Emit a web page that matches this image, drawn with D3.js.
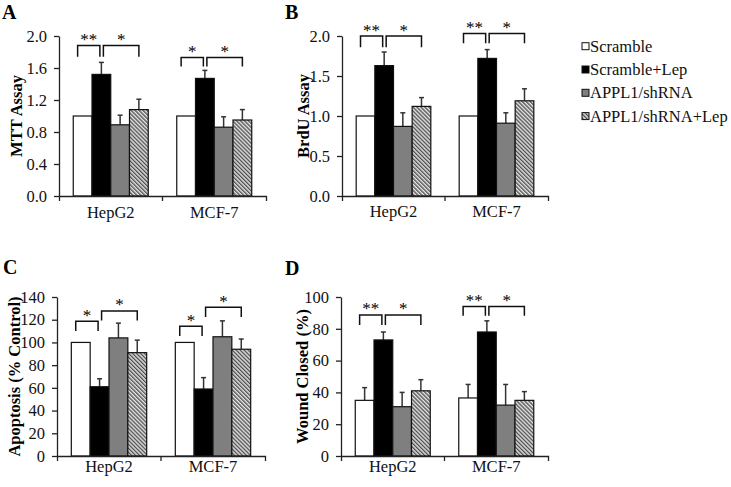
<!DOCTYPE html>
<html>
<head>
<meta charset="utf-8">
<script src="https://cdn.jsdelivr.net/npm/d3@7"></script>
<style>
  html, body { margin: 0; padding: 0; background: #fff; }
  svg { display: block; font-family: "Liberation Serif", "Times New Roman", serif; }
</style>
</head>
<body>
<svg id="chart" width="731" height="487"></svg>
<script>
// ---------------- data ----------------
const groups = ["HepG2", "MCF-7"];
const series = ["Scramble", "Scramble+Lep", "APPL1/shRNA", "APPL1/shRNA+Lep"];

const mttMean = [[1.00, 1.52, 0.89, 1.08], [1.00, 1.47, 0.86, 0.95]];
const mttErr  = [[0.00, 0.15, 0.12, 0.13], [0.00, 0.10, 0.13, 0.13]];
const mttTicks = [0, 0.4, 0.8, 1.2, 1.6, 2.0];
const mttSig = [[0, 0, 1, 1.88, 1.74, "**"], [0, 1, 3, 1.88, 1.74, "*"],
                [1, 0, 1, 1.73, 1.62, "*"],  [1, 1, 3, 1.73, 1.62, "*"]];

const brduMean = [[1.00, 1.63, 0.87, 1.12], [1.00, 1.72, 0.91, 1.19]];
const brduErr  = [[0.00, 0.17, 0.17, 0.11], [0.00, 0.11, 0.13, 0.15]];
const brduTicks = [0, 0.5, 1.0, 1.5, 2.0];
const brduSig = [[0, 0, 1, 2.00, 1.86, "**"], [0, 1, 3, 2.00, 1.86, "*"],
                 [1, 0, 1, 2.03, 1.91, "**"], [1, 1, 3, 2.03, 1.91, "*"]];

const apopMean = [[100, 61, 104, 91], [100, 59, 105, 94]];
const apopErr  = [[0, 7, 13, 11], [0, 10, 14, 9]];
const apopTicks = [0, 20, 40, 60, 80, 100, 120, 140];
const apopSig = [[0, 0, 1, 118.6, 110.0, "*"], [0, 1, 3, 127.7, 119.3, "*"],
                 [1, 0, 1, 114.3, 105.7, "*"], [1, 1, 3, 131.0, 122.4, "*"]];

const woundMean = [[35, 73, 31, 41], [36.5, 78, 32, 35]];
const woundErr  = [[8, 5, 9, 7], [8.5, 7, 13, 5.5]];
const woundTicks = [0, 20, 40, 60, 80, 100];
const woundSig = [[0, 0, 1, 88.7, 82.4, "**"], [0, 1, 3, 88.7, 82.4, "*"],
                  [1, 0, 1, 94.1, 88.2, "**"], [1, 1, 3, 94.1, 88.2, "*"]];

// ---------------- drawing ----------------
const svg = d3.select("#chart");
const defs = svg.append("defs");
const pat = defs.append("pattern")
  .attr("id", "hatch").attr("patternUnits", "userSpaceOnUse")
  .attr("width", 2.8).attr("height", 2.8)
  .attr("patternTransform", "rotate(-45)");
pat.append("rect").attr("width", 2.8).attr("height", 2.8).attr("fill", "#e6e6e6");
pat.append("line").attr("x1", 0.7).attr("y1", 0).attr("x2", 0.7).attr("y2", 2.8)
  .attr("stroke", "#3c3c3c").attr("stroke-width", 1.2);

const fills = ["#ffffff", "#000000", "#7f7f7f", "url(#hatch)"];

const panels = [
  { letter: "A", lx: 2,   ly: 19,  x0: 59,  x1: 266, yTop: 36,  yBot: 196, title: "MTT Assay",
    mean: mttMean, err: mttErr, ticks: mttTicks, fmt: d3.format(".1f"), sig: mttSig, labDy: 22, ylx: 16 },
  { letter: "B", lx: 285, ly: 19,  x0: 342, x1: 548, yTop: 36,  yBot: 196, title: "BrdU Assay",
    mean: brduMean, err: brduErr, ticks: brduTicks, fmt: d3.format(".1f"), sig: brduSig, labDy: 21, ylx: 303 },
  { letter: "C", lx: 3,   ly: 274, x0: 57,  x1: 265, yTop: 297, yBot: 456, title: "Apoptosis (% Control)",
    mean: apopMean, err: apopErr, ticks: apopTicks, fmt: d3.format("d"), sig: apopSig, labDy: 16, ylx: 14 },
  { letter: "D", lx: 285, ly: 275, x0: 341, x1: 548, yTop: 297, yBot: 456, title: "Wound Closed (%)",
    mean: woundMean, err: woundErr, ticks: woundTicks, fmt: d3.format("d"), sig: woundSig, labDy: 16, ylx: 302 }
];

panels.forEach(p => {
  const g = svg.append("g");
  const yMax = p.ticks[p.ticks.length - 1];
  const y = d3.scaleLinear().domain([0, yMax]).range([p.yBot, p.yTop]);
  const xG = d3.scaleBand().domain(groups).range([p.x0, p.x1]).padding(0);
  const xB = d3.scaleBand().domain(d3.range(series.length)).range([0, xG.bandwidth()])
    .paddingInner(0).paddingOuter(0.76);
  const bw = xB.bandwidth();

  // panel letter
  g.append("text").attr("x", p.lx).attr("y", p.ly).text(p.letter)
    .attr("font-size", 20).attr("font-weight", "bold").attr("fill", "#000");

  // y axis
  const ya = g.append("g").attr("transform", `translate(${p.x0},0)`)
    .call(d3.axisLeft(y).tickValues(p.ticks).tickFormat(p.fmt).tickSize(5).tickSizeOuter(0).tickPadding(7));
  ya.selectAll("text").attr("font-size", 16.5).attr("fill", "#111")
    .attr("font-family", "Liberation Serif, serif");
  ya.selectAll("line,path").attr("stroke", "#222").attr("stroke-width", 1.3);

  // y label
  g.append("text")
    .attr("transform", `translate(${p.ylx},${(p.yTop + p.yBot) / 2}) rotate(-90)`)
    .attr("text-anchor", "middle").attr("dy", "0.35em")
    .attr("font-size", 16.5).attr("font-weight", "bold").attr("fill", "#000")
    .text(p.title);

  // bars
  groups.forEach((grp, gi) => {
    series.forEach((s, si) => {
      const v = p.mean[gi][si];
      const e = p.err[gi][si];
      const bx = xG(grp) + xB(si);
      const cx = bx + bw / 2;
      if (e > 0) {
        g.append("line").attr("x1", cx).attr("x2", cx).attr("y1", y(v)).attr("y2", y(v + e))
          .attr("stroke", "#333").attr("stroke-width", 1.5);
        g.append("line").attr("x1", cx - 2.5).attr("x2", cx + 2.5).attr("y1", y(v + e)).attr("y2", y(v + e))
          .attr("stroke", "#333").attr("stroke-width", 1.5);
      }
      g.append("rect").attr("x", bx).attr("y", y(v)).attr("width", bw).attr("height", y(0) - y(v))
        .attr("fill", fills[si]).attr("stroke", "#111").attr("stroke-width", 1.2);
    });
  });

  // x axis
  const xa = g.append("g").attr("transform", `translate(0,${p.yBot})`)
    .call(d3.axisBottom(xG).tickSize(0).tickSizeOuter(5).tickPadding(p.labDy - 12));
  xa.selectAll("text").attr("font-size", 16.5).attr("fill", "#111")
    .attr("font-family", "Liberation Serif, serif");
  xa.selectAll("path").attr("stroke", "#222").attr("stroke-width", 1.3);
  g.append("line").attr("x1", xG(groups[1])).attr("x2", xG(groups[1]))
    .attr("y1", p.yBot).attr("y2", p.yBot + 5).attr("stroke", "#222").attr("stroke-width", 1.3);

  // significance brackets
  p.sig.forEach(([gi, a, b, top, leg, lab]) => {
    const ca = xG(groups[gi]) + xB(a) + bw / 2;
    const cb = xG(groups[gi]) + xB(b) + bw / 2;
    const xa1 = a === 0 ? ca - 5 : ca + 2;
    const xb1 = b === 1 ? cb - 1.5 : cb;
    g.append("path")
      .attr("d", `M${xa1},${y(leg)}V${y(top)}H${xb1}V${y(leg)}`)
      .attr("fill", "none").attr("stroke", "#111").attr("stroke-width", 1.5);
    g.append("text").attr("x", (xa1 + xb1) / 2).attr("y", y(top) - 0.5)
      .attr("text-anchor", "middle").attr("font-size", 17).attr("fill", "#000").text(lab);
  });
});

// legend
const leg = svg.append("g");
series.forEach((s, i) => {
  const by = 51.7 + i * 23.3;
  leg.append("rect").attr("x", 582).attr("y", by - 9).attr("width", 7).attr("height", 7)
    .attr("fill", fills[i]).attr("stroke", "#111").attr("stroke-width", 1);
  leg.append("text").attr("x", 590).attr("y", by).attr("font-size", 16.5).attr("fill", "#111").text(s);
});
</script>
</body>
</html>
